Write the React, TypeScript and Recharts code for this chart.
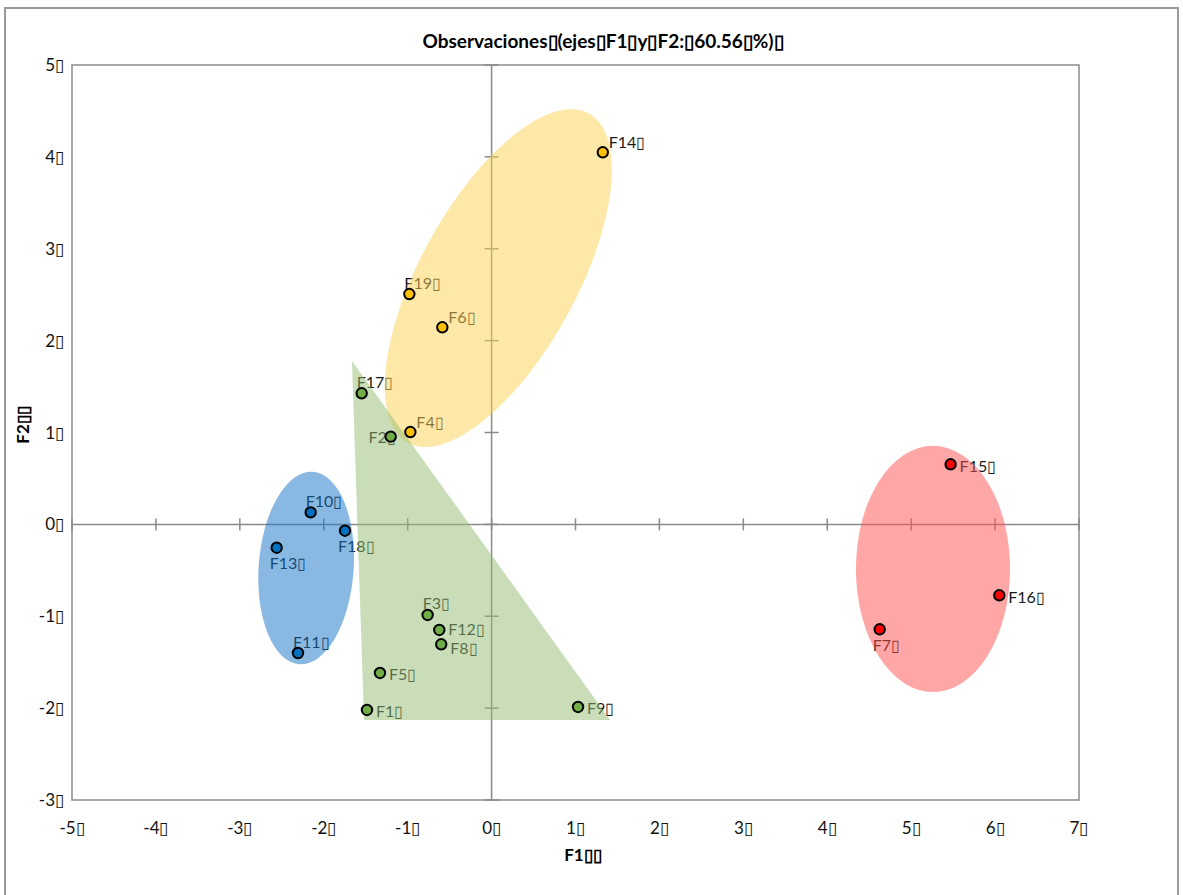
import React from "react";
import { ScatterChart, Scatter, XAxis, YAxis, ReferenceLine, ReferenceArea } from "recharts";

// the source renders its spaces as missing-glyph boxes, kept as a box character
const BOX = "\u25AF";

const names = ["F1", "F2", "F3", "F4", "F5", "F6", "F7", "F8", "F9", "F10", "F11", "F12", "F13", "F14", "F15", "F16", "F17", "F18", "F19"];
const f1Values = [-1.485, -1.202, -0.762, -0.968, -1.33, -0.587, 4.625, -0.6, 1.03, -2.156, -2.307, -0.623, -2.561, 1.325, 5.47, 6.05, -1.548, -1.747, -0.98];
const f2Values = [-2.02, 0.955, -0.986, 1.005, -1.617, 2.145, -1.142, -1.305, -1.987, 0.131, -1.4, -1.149, -0.254, 4.05, 0.654, -0.772, 1.427, -0.069, 2.507];
const groups = ["verde", "verde", "verde", "amarillo", "verde", "amarillo", "rojo", "verde", "verde", "azul", "azul", "verde", "azul", "amarillo", "rojo", "rojo", "verde", "azul", "amarillo"];
const labelSides = ["right", "left", "top", "topright", "right", "topright", "bottom", "rightdown", "right", "top", "top", "rightup", "bottom", "topright", "right", "right", "top", "bottom", "top"];

const xTicks = [-5, -4, -3, -2, -1, 0, 1, 2, 3, 4, 5, 6, 7];
const yTicks = [-3, -2, -1, 0, 1, 2, 3, 4, 5];

const groupOrder = ["amarillo", "verde", "azul", "rojo"];
const pointColors: Record<string, string> = {
  amarillo: "#FFC000",
  verde: "#70AD47",
  azul: "#0070C0",
  rojo: "#FF0000",
};
const areaColors: Record<string, string> = {
  amarillo: "#FCD24F",
  verde: "#93BD71",
  azul: "#1373C5",
  rojo: "#FF4D4D",
};

// group outlines, in data units (angle in degrees)
const ellipses = [
  { group: "amarillo", cx: 0.08, cy: 2.68, rx: 0.933, ry: 2.045, angle: 28.8 },
  { group: "azul", cx: -2.21, cy: -0.475, rx: 0.566, ry: 1.05, angle: 4 },
  { group: "rojo", cx: 5.26, cy: -0.485, rx: 0.918, ry: 1.34, angle: 0 },
];
const triangleX = [-1.664, -1.52, 1.412];
const triangleY = [1.778, -2.128, -2.128];

const FONT = "Lato, 'Open Sans', sans-serif";

const rows = names.map((name, i) => ({
  name,
  x: f1Values[i],
  y: f2Values[i],
  group: groups[i],
  side: labelSides[i],
}));

const labelOffset: Record<string, { dx: number; dy: number; anchor: "start" | "end" }> = {
  top: { dx: -5, dy: -12, anchor: "start" },
  topright: { dx: 6, dy: -11, anchor: "start" },
  right: { dx: 9, dy: 1, anchor: "start" },
  rightup: { dx: 9, dy: -1, anchor: "start" },
  rightdown: { dx: 9, dy: 3, anchor: "start" },
  bottom: { dx: -7, dy: 15, anchor: "start" },
  left: { dx: 5, dy: 0, anchor: "end" },
};

function PointLabel(props: any) {
  const { cx, cy, payload } = props;
  if (cx == null || cy == null) return <g />;
  const o = labelOffset[payload.side];
  return (
    <text
      x={cx + o.dx}
      y={cy + o.dy}
      textAnchor={o.anchor}
      dominantBaseline="central"
      fontFamily={FONT}
      fontSize={16}
      fill="#1a1a1a"
    >
      {payload.name + BOX}
    </text>
  );
}

function PointDot(props: any) {
  const { cx, cy, fill } = props;
  if (cx == null || cy == null) return <g />;
  return <circle cx={cx} cy={cy} r={5.2} fill={fill} stroke="#000" strokeWidth={2} />;
}

function axisWithTicks(count: number, horizontal: boolean) {
  return (props: any) => {
    const { x1, y1, x2, y2 } = props;
    const marks = [];
    for (let i = 0; i < count; i++) {
      const px = x1 + ((x2 - x1) * i) / (count - 1);
      const py = y1 + ((y2 - y1) * i) / (count - 1);
      marks.push(
        horizontal ? (
          <line key={i} x1={px} x2={px} y1={py - 6} y2={py + 6} stroke="#8a8a8a" strokeWidth={1.5} />
        ) : (
          <line key={i} x1={px - 7} x2={px + 7} y1={py} y2={py} stroke="#8a8a8a" strokeWidth={1.5} />
        )
      );
    }
    return (
      <g>
        <line x1={x1} y1={y1} x2={x2} y2={y2} stroke="#8a8a8a" strokeWidth={1.5} />
        {marks}
      </g>
    );
  };
}

function ellipseShape(angle: number, color: string) {
  return (props: any) => {
    const { x, y, width, height } = props;
    const cx = x + width / 2;
    const cy = y + height / 2;
    return (
      <ellipse
        cx={cx}
        cy={cy}
        rx={width / 2}
        ry={height / 2}
        transform={`rotate(${angle} ${cx} ${cy})`}
        fill={color}
        fillOpacity={0.5}
      />
    );
  };
}

const triMinX = Math.min(...triangleX);
const triMaxX = Math.max(...triangleX);
const triMinY = Math.min(...triangleY);
const triMaxY = Math.max(...triangleY);

function triangleShape(props: any) {
  const { x, y, width, height } = props;
  const pts = triangleX
    .map((vx, i) => {
      const px = x + ((vx - triMinX) / (triMaxX - triMinX)) * width;
      const py = y + ((triMaxY - triangleY[i]) / (triMaxY - triMinY)) * height;
      return `${px},${py}`;
    })
    .join(" ");
  return <polygon points={pts} fill={areaColors.verde} fillOpacity={0.5} />;
}

const tickStyle = { fontFamily: FONT, fontSize: 17, fill: "#111" };

export default function App() {
  return (
    <div
      style={{
        position: "relative",
        width: 1183,
        height: 887,
        marginLeft: -8,
        marginTop: -8,
        overflow: "hidden",
        background: "#fff",
      }}
    >
      <div style={{ position: "absolute", left: 0, top: 0 }}>
        <ScatterChart width={1183} height={895} margin={{ top: 65, right: 104, bottom: 45, left: 12 }}>
          <XAxis
            type="number"
            dataKey="x"
            domain={[-5, 7]}
            ticks={xTicks}
            interval={0}
            allowDataOverflow
            axisLine={false}
            tickLine={false}
            tickSize={6}
            tickMargin={16}
            height={50}
            tick={tickStyle}
            tickFormatter={(v: number) => `${v}${BOX}`}
          />
          <YAxis
            type="number"
            dataKey="y"
            domain={[-3, 5]}
            ticks={yTicks}
            interval={0}
            allowDataOverflow
            axisLine={false}
            tickLine={false}
            width={60}
            tick={tickStyle}
            tickFormatter={(v: number) => `${v}${BOX}`}
          />
          <ReferenceArea
            x1={-5}
            x2={7}
            y1={-3}
            y2={5}
            fill="none"
            stroke="#8c8c8c"
            strokeWidth={1.5}
            fillOpacity={0}
            zIndex={5}
          />
          <ReferenceLine y={0} shape={axisWithTicks(xTicks.length, true)} zIndex={10} />
          <ReferenceLine x={0} shape={axisWithTicks(yTicks.length, false)} zIndex={10} />
          <Scatter data={rows} shape={PointLabel} isAnimationActive={false} zIndex={20} />
          {ellipses.map((e) => (
            <ReferenceArea
              key={e.group}
              x1={e.cx - e.rx}
              x2={e.cx + e.rx}
              y1={e.cy - e.ry}
              y2={e.cy + e.ry}
              shape={ellipseShape(e.angle, areaColors[e.group])}
              zIndex={30}
            />
          ))}
          <ReferenceArea x1={triMinX} x2={triMaxX} y1={triMinY} y2={triMaxY} shape={triangleShape} zIndex={30} />
          {groupOrder.map((g) => (
            <Scatter
              key={g}
              name={g}
              data={rows.filter((r) => r.group === g)}
              fill={pointColors[g]}
              shape={PointDot}
              isAnimationActive={false}
              zIndex={40}
            />
          ))}
        </ScatterChart>
      </div>
      <svg width={1183} height={895} style={{ position: "absolute", left: 0, top: 0, pointerEvents: "none" }}>
        <text x={603} y={48} textAnchor="middle" fontFamily={FONT} fontWeight="bold" fontSize={19} fill="#000">
          {`Observaciones${BOX}(ejes${BOX}F1${BOX}y${BOX}F2:${BOX}60.56${BOX}%)${BOX}`}
        </text>
        <text x={583} y={861} textAnchor="middle" fontFamily={FONT} fontWeight="bold" fontSize={17} fill="#000">
          {`F1${BOX}${BOX}`}
        </text>
        <text
          x={0}
          y={0}
          transform="translate(29 425) rotate(-90)"
          textAnchor="middle"
          fontFamily={FONT}
          fontWeight="bold"
          fontSize={17}
          fill="#000"
        >
          {`F2${BOX}${BOX}`}
        </text>
      </svg>
      {/* frame around the whole chart */}
      <div
        style={{
          position: "fixed",
          left: 4,
          top: 7,
          width: 1175,
          height: 930,
          boxSizing: "border-box",
          border: "2px solid #9a9a9a",
          pointerEvents: "none",
        }}
      />
    </div>
  );
}
